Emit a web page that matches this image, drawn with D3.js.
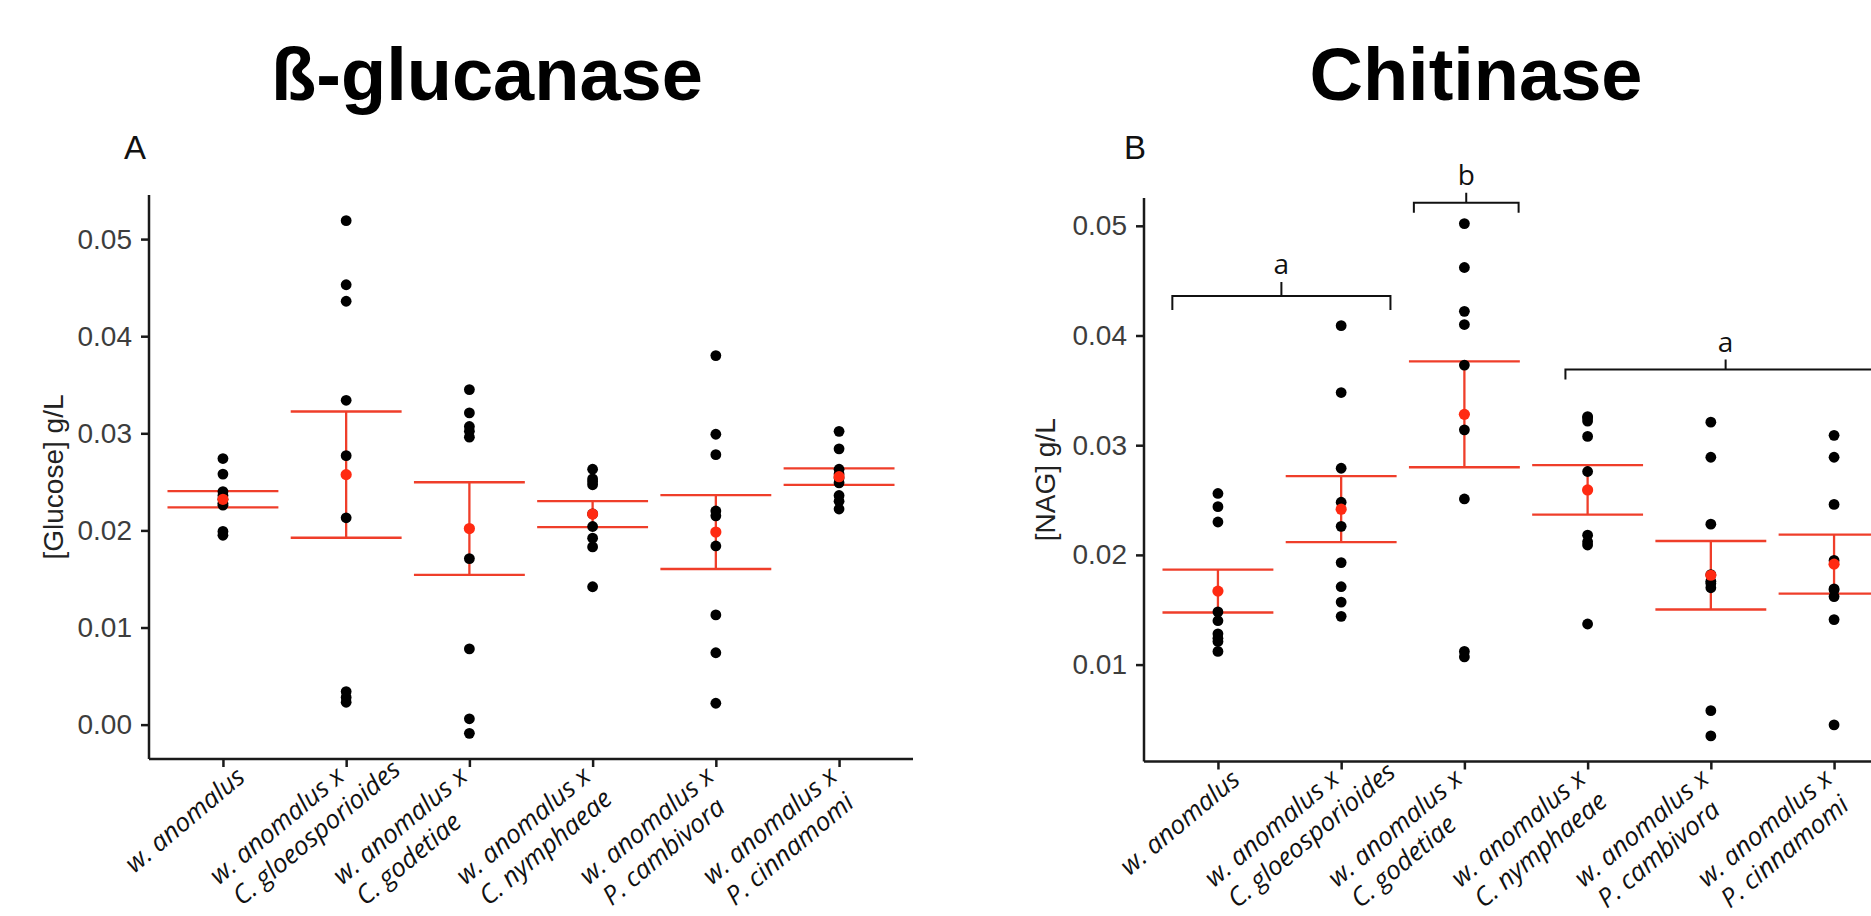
<!DOCTYPE html>
<html lang="en">
<head>
<meta charset="UTF-8">
<title>ß-glucanase / Chitinase</title>
<style>
  body { margin: 0; background: #fff; }
  svg { display: block; font-family: "Liberation Sans", Arial, sans-serif; }
  .dot { fill: #000; }
  .err { stroke: #ef3e2a; stroke-width: 2.3; fill: none; }
  .mean { fill: #ff2a12; }
  .axis path, .axis line { stroke: #1a1a1a; stroke-width: 2.5; }
  .axis text { font-size: 28px; fill: #3d3d3d; font-family: "Liberation Sans", Arial, sans-serif; }
  .xlab { font-family: "Open Sans", sans-serif; font-style: italic; font-size: 26px; fill: #111; }
  .bracket { stroke: #111; stroke-width: 2; fill: none; }
  .bracket-label { font-family: "Open Sans", sans-serif; font-size: 28px; fill: #111; }
  .title { font-weight: bold; font-size: 74px; fill: #000; }
  .panel-tag { font-size: 33px; fill: #111; }
  .ytitle { font-size: 28px; fill: #222; }
</style>
</head>
<body>
<svg width="1871" height="916"></svg>
<script src="https://d3js.org/d3.v7.min.js"></script>
<script>
// x categories (two-line labels split on \n)
const categories = [
  "w. anomalus",
  "w. anomalus x\nC. gloeosporioides",
  "w. anomalus x\nC. godetiae",
  "w. anomalus x\nC. nymphaeae",
  "w. anomalus x\nP. cambivora",
  "w. anomalus x\nP. cinnamomi"
];

// [Glucose] g/L, 9 replicates per group
const glucose = [
  [0.0274, 0.0258, 0.0240, 0.0236, 0.0232, 0.0228, 0.0226, 0.0199, 0.0195],
  [0.0519, 0.0453, 0.0436, 0.0334, 0.0277, 0.0213, 0.0034, 0.0028, 0.0023],
  [0.0345, 0.0321, 0.0307, 0.0302, 0.0296, 0.0171, 0.0078, 0.0006, -0.0009],
  [0.0263, 0.0253, 0.0250, 0.0247, 0.0217, 0.0204, 0.0192, 0.0183, 0.0142],
  [0.0380, 0.0299, 0.0278, 0.0220, 0.0215, 0.0184, 0.0113, 0.0074, 0.0022],
  [0.0302, 0.0284, 0.0263, 0.0258, 0.0254, 0.0249, 0.0236, 0.0230, 0.0222]
];

// [NAG] g/L
const nag = [
  [0.0256, 0.0244, 0.0230, 0.0148, 0.0140, 0.0128, 0.0124, 0.0121, 0.0112],
  [0.0409, 0.0348, 0.0279, 0.0248, 0.0226, 0.0193, 0.0171, 0.0157, 0.0144],
  [0.0502, 0.0462, 0.0422, 0.0410, 0.0373, 0.0314, 0.0251, 0.0112, 0.0107],
  [0.0326, 0.0325, 0.0322, 0.0308, 0.0276, 0.0218, 0.0212, 0.0209, 0.0137],
  [0.0321, 0.0289, 0.0228, 0.0182, 0.0176, 0.0174, 0.0170, 0.0058, 0.0035],
  [0.0309, 0.0289, 0.0246, 0.0195, 0.0169, 0.0168, 0.0162, 0.0141, 0.0045]
];

const glucoseTicks = [0, 0.01, 0.02, 0.03, 0.04, 0.05];
const nagTicks = [0.01, 0.02, 0.03, 0.04, 0.05];

// significance groups on the chitinase panel
const nagGroups = [
  { from: 0, to: 1, label: "a", y: 0.0436 },
  { from: 2, to: 2, label: "b", y: 0.0521 },
  { from: 3, to: 5, label: "a", y: 0.0369 }
];
// bracket extents (in category steps) and tick lengths, px
const bracketLayout = [
  { left: -0.37, right: 0.40, tick: 14 },
  { left: -0.41, right: 0.44, tick: 10 },
  { left: -0.18, right: 0.42, tick: 10 }
];

const svg = d3.select("svg");

function drawPanel(opt) {
  const { data, ticks, left, top, bottom, width } = opt;
  const g = svg.append("g");

  const x = d3.scalePoint()
    .domain(d3.range(categories.length))
    .range([left, left + width])
    .padding(0.6);

  // ggplot-style 5% expansion
  const all = data.flat();
  const ext = d3.extent(all);
  const pad = (ext[1] - ext[0]) * 0.05;
  const y = d3.scaleLinear()
    .domain([ext[0] - pad, ext[1] + pad])
    .range([bottom, top]);

  const capW = x.step() * 0.9;
  const stats = data.map(d => {
    const m = d3.mean(d);
    const se = d3.deviation(d) / Math.sqrt(d.length);
    return { m, lo: m - se, hi: m + se };
  });

  // error bars (mean +/- SE)
  const eb = g.selectAll(".eb").data(stats).join("g").attr("class", "eb");
  eb.append("line").attr("class", "err")
    .attr("x1", (d, i) => x(i)).attr("x2", (d, i) => x(i))
    .attr("y1", d => y(d.lo)).attr("y2", d => y(d.hi));
  eb.append("line").attr("class", "err")
    .attr("x1", (d, i) => x(i) - capW / 2).attr("x2", (d, i) => x(i) + capW / 2)
    .attr("y1", d => y(d.hi)).attr("y2", d => y(d.hi));
  eb.append("line").attr("class", "err")
    .attr("x1", (d, i) => x(i) - capW / 2).attr("x2", (d, i) => x(i) + capW / 2)
    .attr("y1", d => y(d.lo)).attr("y2", d => y(d.lo));

  // raw points
  const pts = data.flatMap((d, i) => d.map(v => ({ i, v })));
  g.selectAll(".dot").data(pts).join("circle")
    .attr("class", "dot")
    .attr("cx", d => x(d.i))
    .attr("cy", d => y(d.v))
    .attr("r", 5.4);

  // means
  g.selectAll(".mean").data(stats).join("circle")
    .attr("class", "mean")
    .attr("cx", (d, i) => x(i))
    .attr("cy", d => y(d.m))
    .attr("r", 5.6);

  // y axis
  g.append("g").attr("class", "axis")
    .attr("transform", `translate(${left},0)`)
    .call(d3.axisLeft(y).tickValues(ticks).tickFormat(d3.format(".2f")).tickSize(8).tickPadding(9).tickSizeOuter(0))
    .call(a => a.select(".domain").attr("d", `M0,${top}V${bottom}`));

  // x axis
  const xa = g.append("g").attr("class", "axis")
    .attr("transform", `translate(0,${bottom})`)
    .call(d3.axisBottom(x).tickSize(8).tickFormat("").tickSizeOuter(0));
  xa.select(".domain").attr("d", `M${left},0H${left + width}`);

  // rotated labels, second line left-aligned under the first
  categories.forEach((c, i) => {
    const lines = c.split("\n");
    const lg = g.append("g")
      .attr("transform", `translate(${x(i)},${bottom + 8}) rotate(-40)`);
    if (lines.length === 1) {
      lg.append("text").attr("class", "xlab").attr("text-anchor", "end")
        .attr("x", 10).attr("y", 25).text(lines[0]);
    } else {
      const t1 = lg.append("text").attr("class", "xlab").attr("text-anchor", "end")
        .attr("x", -8).attr("y", 9).text(lines[0]);
      const w = t1.node().getComputedTextLength();
      lg.append("text").attr("class", "xlab")
        .attr("x", -8 - w + 4).attr("y", 40).text(lines[1]);
    }
  });

  // y title
  svg.append("text").attr("class", "ytitle")
    .attr("text-anchor", "middle")
    .attr("transform", `translate(${opt.ytitleX},${(top + bottom) / 2}) rotate(-90)`)
    .text(opt.ytitle);

  return { x, y };
}

// titles and panel tags
svg.append("text").attr("class", "title").attr("text-anchor", "middle")
  .attr("x", 487).attr("y", 100).text("ß-glucanase");
svg.append("text").attr("class", "title").attr("text-anchor", "middle")
  .attr("x", 1476).attr("y", 100).text("Chitinase");
svg.append("text").attr("class", "panel-tag").attr("x", 124).attr("y", 159).text("A");
svg.append("text").attr("class", "panel-tag").attr("x", 1124).attr("y", 159).text("B");

drawPanel({
  data: glucose, ticks: glucoseTicks,
  left: 149, top: 195, bottom: 759, width: 764,
  ytitle: "[Glucose] g/L", ytitleX: 63
});

const pB = drawPanel({
  data: nag, ticks: nagTicks,
  left: 1144, top: 198, bottom: 761.5, width: 764,
  ytitle: "[NAG] g/L", ytitleX: 1055
});

// significance brackets
nagGroups.forEach((b, k) => {
  const lay = bracketLayout[k];
  const st = pB.x.step();
  const x0 = pB.x(b.from) + lay.left * st;
  const x1 = pB.x(b.to) + lay.right * st;
  const xm = (x0 + x1) / 2;
  const yb = pB.y(b.y);
  svg.append("path").attr("class", "bracket")
    .attr("d", `M${x0},${yb + lay.tick}V${yb}H${x1}V${yb + lay.tick}M${xm},${yb}V${yb - lay.tick}`);
  svg.append("text").attr("class", "bracket-label").attr("text-anchor", "middle")
    .attr("x", xm).attr("y", yb - lay.tick - 8).text(b.label);
});
</script>
</body>
</html>
